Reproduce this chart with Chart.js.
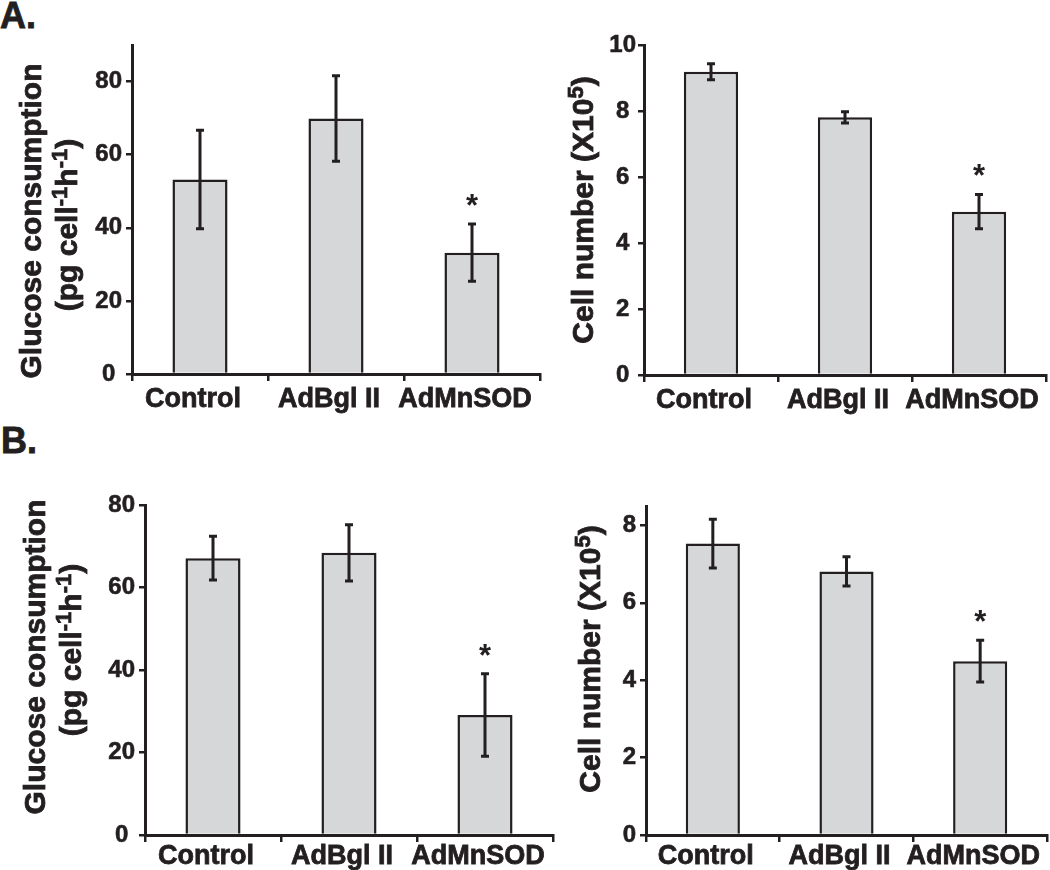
<!DOCTYPE html>
<html>
<head>
<meta charset="utf-8">
<script src="https://cdn.jsdelivr.net/npm/chart.js@4.4.1/dist/chart.umd.min.js"></script>
<style>
  body { margin: 0; width: 1050px; height: 870px; background: #fff; position: relative; overflow: hidden; }
  .label { position: absolute; font: bold 36px/36px "Liberation Sans", Arial, sans-serif; color: #231f20; -webkit-text-stroke: 0.8px #231f20; }
  canvas { position: absolute; }
</style>
</head>
<body>
<div class="label" style="left:0; top:-2px">A.</div>
<div class="label" style="left:1px; top:423px">B.</div>
<canvas id="aGlucose" width="545" height="420" style="left:0; top:0"></canvas>
<canvas id="aCells" width="505" height="420" style="left:545px; top:0"></canvas>
<canvas id="bGlucose" width="560" height="450" style="left:0; top:420px"></canvas>
<canvas id="bCells" width="490" height="450" style="left:560px; top:420px"></canvas>
<script>
const categories = ['Control', 'AdBgl II', 'AdMnSOD'];
const significance = ['', '', '*'];

// panel A
const aGlucoseMean = [53.2, 69.9, 33.2];
const aGlucoseErr = [13.5, 11.7, 7.8];
const aCellsMean = [9.19, 7.81, 4.95];
const aCellsErr = [0.24, 0.17, 0.52];

// panel B
const bGlucoseMean = [67.1, 68.4, 29.1];
const bGlucoseErr = [5.3, 6.8, 10.0];
const bCellsMean = [7.53, 6.81, 4.49];
const bCellsErr = [0.63, 0.38, 0.54];

const glucoseTicks = [0, 20, 40, 60, 80];
const aCellTicks = [0, 2, 4, 6, 8, 10];
const bCellTicks = [0, 2, 4, 6, 8];

const glucoseTitle = [
  [['Glucose consumption']],
  [['(pg cell'], ['-1', true], ['h'], ['-1', true], [')']]
];
const cellTitle = [
  [['Cell number (X10'], ['5', true], [')']]
];

const ink = '#231f20';
const barFill = '#d6d7d9';
const family = '"Liberation Sans", Arial, sans-serif';

function errorBarPlugin(errors, marks) {
  return {
    id: 'errorBars',
    afterDatasetsDraw(chart) {
      const ctx = chart.ctx;
      const y = chart.scales.y;
      const values = chart.data.datasets[0].data;
      ctx.save();
      ctx.strokeStyle = ink;
      ctx.fillStyle = ink;
      ctx.lineWidth = 3;
      chart.getDatasetMeta(0).data.forEach((bar, i) => {
        const top = y.getPixelForValue(values[i] + errors[i]);
        const bot = y.getPixelForValue(values[i] - errors[i]);
        ctx.beginPath();
        ctx.moveTo(bar.x, top);
        ctx.lineTo(bar.x, bot);
        ctx.moveTo(bar.x - 4, top);
        ctx.lineTo(bar.x + 4, top);
        ctx.moveTo(bar.x - 4, bot);
        ctx.lineTo(bar.x + 4, bot);
        ctx.stroke();
        if (marks[i]) {
          ctx.font = 'bold 31px ' + family;
          ctx.textAlign = 'center';
          ctx.textBaseline = 'alphabetic';
          ctx.fillText(marks[i], bar.x, top - 8);
        }
      });
      ctx.restore();
    }
  };
}

// rotated axis title, with superscript pieces
function titlePlugin(lines, spots) {
  return {
    id: 'yTitle',
    afterDraw(chart) {
      const ctx = chart.ctx;
      const big = 'bold 30px ' + family;
      const small = 'bold 22px ' + family;
      lines.forEach((line, k) => {
        let total = 0;
        line.forEach(([txt, sup]) => {
          ctx.font = sup ? small : big;
          total += ctx.measureText(txt).width;
        });
        ctx.save();
        ctx.translate(spots[k][0], spots[k][1]);
        ctx.rotate(-Math.PI / 2);
        ctx.fillStyle = ink;
        ctx.strokeStyle = ink;
        ctx.lineWidth = 0.8;
        ctx.textBaseline = 'alphabetic';
        ctx.textAlign = 'left';
        let u = -total / 2;
        line.forEach(([txt, sup]) => {
          ctx.font = sup ? small : big;
          ctx.fillText(txt, u, sup ? -10 : 0);
          ctx.strokeText(txt, u, sup ? -10 : 0);
          u += ctx.measureText(txt).width;
        });
        ctx.restore();
      });
    }
  };
}

function makeChart(id, values, errors, max, ticks, title, spots, area, pads) {
  const canvas = document.getElementById(id);
  const W = canvas.width, H = canvas.height;
  const xAxisH = H - area.bottom;
  return new Chart(canvas, {
    type: 'bar',
    data: {
      labels: categories,
      datasets: [{
        data: values,
        backgroundColor: barFill,
        borderColor: ink,
        borderWidth: 2.5,
        borderSkipped: 'start',
        categoryPercentage: 1,
        barPercentage: 0.405
      }]
    },
    options: {
      responsive: false,
      animation: false,
      layout: {
        padding: { left: 0, top: area.top, right: W - area.right, bottom: 0 }
      },
      plugins: { legend: { display: false }, tooltip: { enabled: false } },
      scales: {
        x: {
          offset: true,
          grid: { offset: true, drawOnChartArea: false, drawTicks: true, tickLength: 7, color: ink, lineWidth: 2.5 },
          border: { display: true, color: ink, width: 3 },
          ticks: {
            color: ink, font: { family, size: 27, weight: 'bold' },
            textStrokeColor: ink, textStrokeWidth: 0.8,
            padding: pads.x, labelOffset: -7, maxRotation: 0, autoSkip: false
          },
          afterFit: s => { s.height = xAxisH; }
        },
        y: {
          min: 0,
          max: max,
          afterBuildTicks: s => { s.ticks = ticks.map(v => ({ value: v })); },
          grid: { drawOnChartArea: false, drawTicks: true, tickLength: 6, color: ink, lineWidth: 2.5 },
          border: { display: true, color: ink, width: 3 },
          ticks: {
            color: ink, font: { family, size: 24, weight: 'bold' },
            textStrokeColor: ink, textStrokeWidth: 0.6,
            padding: pads.y, crossAlign: 'center'
          },
          afterFit: s => { s.width = area.left; }
        }
      }
    },
    plugins: [errorBarPlugin(errors, significance), titlePlugin(title, spots)]
  });
}

makeChart('aGlucose', aGlucoseMean, aGlucoseErr, 90, glucoseTicks, glucoseTitle,
  [[41, 221], [77, 225]], { left: 132, top: 45, right: 540, bottom: 374 }, { x: 2, y: 4 });
makeChart('aCells', aCellsMean, aCellsErr, 10, aCellTicks, cellTitle,
  [[48, 210]], { left: 99, top: 45, right: 501, bottom: 375 }, { x: 2, y: 2 });
makeChart('bGlucose', bGlucoseMean, bGlucoseErr, 80, glucoseTicks, glucoseTitle,
  [[45, 237], [81, 230]], { left: 145, top: 85, right: 553, bottom: 415 }, { x: -2, y: 4 });
makeChart('bCells', bCellsMean, bCellsErr, 8.5, bCellTicks, cellTitle,
  [[40, 239]], { left: 86, top: 86, right: 487, bottom: 415 }, { x: -2, y: 4 });
</script>
</body>
</html>
